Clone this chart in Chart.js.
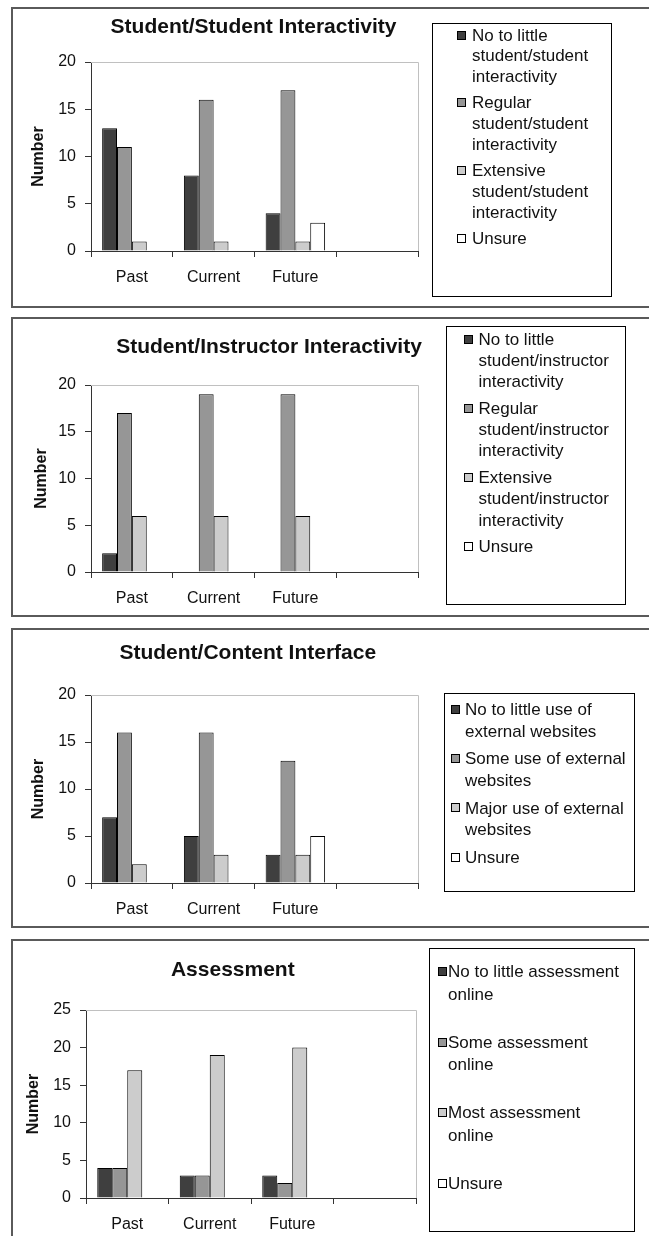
<!DOCTYPE html>
<html>
<head>
<meta charset="utf-8">
<script src="https://cdn.jsdelivr.net/npm/chart.js@4.4.1/dist/chart.umd.min.js"></script>
<style>
  html, body { margin: 0; padding: 0; background: #fff; }
  body { width: 649px; height: 1236px; position: relative; overflow: hidden; }
  .panel { position: absolute; left: 11px; width: 660px; border: 2px solid #5a5a5a; box-sizing: border-box; }
  canvas { position: absolute; left: 0; }
</style>
</head>
<body>
<div class="panel" style="top:7px;height:301px"></div>
<div class="panel" style="top:317px;height:300px"></div>
<div class="panel" style="top:628px;height:300px"></div>
<div class="panel" style="top:939px;height:320px"></div>
<canvas id="c1" width="649" height="301" style="top:7px"></canvas>
<canvas id="c2" width="649" height="300" style="top:317px"></canvas>
<canvas id="c3" width="649" height="300" style="top:628px"></canvas>
<canvas id="c4" width="649" height="300" style="top:939px"></canvas>
<script>
// Survey periods on the x axis (the fourth slot is left empty)
const categories = ['Past', 'Current', 'Future', ''];

// Student/Student Interactivity
const ssNoLittle  = [13, 8, 4, 0];
const ssRegular   = [11, 16, 17, 0];
const ssExtensive = [1, 1, 1, 0];
const ssUnsure    = [0, 0, 3, 0];
const ssNames = [
  ['No to little', 'student/student', 'interactivity'],
  ['Regular', 'student/student', 'interactivity'],
  ['Extensive', 'student/student', 'interactivity'],
  ['Unsure']
];

// Student/Instructor Interactivity
const siNoLittle  = [2, 0, 0, 0];
const siRegular   = [17, 19, 19, 0];
const siExtensive = [6, 6, 6, 0];
const siUnsure    = [0, 0, 0, 0];
const siNames = [
  ['No to little', 'student/instructor', 'interactivity'],
  ['Regular', 'student/instructor', 'interactivity'],
  ['Extensive', 'student/instructor', 'interactivity'],
  ['Unsure']
];

// Student/Content Interface
const scNoLittle = [7, 5, 3, 0];
const scSome     = [16, 16, 13, 0];
const scMajor    = [2, 3, 3, 0];
const scUnsure   = [0, 0, 5, 0];
const scNames = [
  ['No to little use of', 'external websites'],
  ['Some use of external', 'websites'],
  ['Major use of external', 'websites'],
  ['Unsure']
];

// Assessment
const asNoLittle = [4, 3, 3, 0];
const asSome     = [4, 3, 2, 0];
const asMost     = [17, 19, 20, 0];
const asUnsure   = [0, 0, 0, 0];
const asNames = [
  ['No to little assessment', 'online'],
  ['Some assessment', 'online'],
  ['Most assessment', 'online'],
  ['Unsure']
];

// y axis ranges and tick steps
const yMaxes = [20, 20, 20, 25];
const yStep = 5;

const fills = ['#3f3f3f', '#969696', '#cccccc', '#ffffff'];
const FONT = '"Liberation Sans", Arial, sans-serif';

// page-space layout of each framed panel
const panels = [
  { id: 'c1', top: 7, title: 'Student/Student Interactivity', titleX: 253.5, titleY: 27,
    series: [ssNoLittle, ssRegular, ssExtensive, ssUnsure], names: ssNames, yMax: yMaxes[0],
    plot: { l: 91, t: 62, r: 418, b: 251 }, axisTitleX: 38.3,
    legend: { box: [432, 23, 611, 296], swatchX: 457, textX: 472, firstY: 35, step: 67.8, lineH: 20.8 } },
  { id: 'c2', top: 317, title: 'Student/Instructor Interactivity', titleX: 269, titleY: 347.3,
    series: [siNoLittle, siRegular, siExtensive, siUnsure], names: siNames, yMax: yMaxes[1],
    plot: { l: 91, t: 385, r: 418, b: 572 }, axisTitleX: 41.7,
    legend: { box: [446, 326, 625, 604], swatchX: 464, textX: 478.5, firstY: 339.3, step: 69.1, lineH: 21.2 } },
  { id: 'c3', top: 628, title: 'Student/Content Interface', titleX: 247.8, titleY: 653.3,
    series: [scNoLittle, scSome, scMajor, scUnsure], names: scNames, yMax: yMaxes[2],
    plot: { l: 91, t: 695, r: 418, b: 883 }, axisTitleX: 38.3,
    legend: { box: [444, 693, 634, 891], swatchX: 450.7, textX: 465, firstY: 709.3, step: 49.3, lineH: 21.8 } },
  { id: 'c4', top: 939, title: 'Assessment', titleX: 232.8, titleY: 970,
    series: [asNoLittle, asSome, asMost, asUnsure], names: asNames, yMax: yMaxes[3],
    plot: { l: 86, t: 1010, r: 416, b: 1198 }, axisTitleX: 33.3,
    legend: { box: [429, 948, 634, 1231], swatchX: 438.3, textX: 448, firstY: 971.7, step: 70.5, lineH: 22.6 } }
];

// Draws the plot frame, the chart title and the boxed legend
const panelDecor = {
  id: 'panelDecor',
  beforeDatasetsDraw(chart) {
    const { ctx, chartArea: a } = chart;
    ctx.save();
    ctx.strokeStyle = '#c0c0c0';
    ctx.lineWidth = 1;
    ctx.beginPath();
    ctx.moveTo(a.left, Math.round(a.top) + 0.5);
    ctx.lineTo(Math.round(a.right) + 0.5, Math.round(a.top) + 0.5);
    ctx.lineTo(Math.round(a.right) + 0.5, a.bottom);
    ctx.stroke();
    ctx.restore();
  },
  afterDraw(chart) {
    const p = chart.config.options.panel;
    const ctx = chart.ctx;
    const oy = p.top;
    ctx.save();
    ctx.fillStyle = '#111';
    ctx.font = 'bold 21px ' + FONT;
    ctx.textAlign = 'center';
    ctx.textBaseline = 'middle';
    ctx.fillText(p.title, p.titleX, p.titleY - oy);

    const L = p.legend;
    ctx.strokeStyle = '#000';
    ctx.lineWidth = 1;
    ctx.fillStyle = '#fff';
    ctx.fillRect(L.box[0], L.box[1] - oy, L.box[2] - L.box[0], L.box[3] - L.box[1]);
    ctx.strokeRect(Math.round(L.box[0]) + 0.5, Math.round(L.box[1] - oy) + 0.5,
                   Math.round(L.box[2] - L.box[0]), Math.round(L.box[3] - L.box[1]));
    ctx.font = '17px ' + FONT;
    ctx.textAlign = 'left';
    chart.data.datasets.forEach((ds, i) => {
      const y0 = L.firstY + i * L.step - oy;
      const sx = Math.round(L.swatchX), sy = Math.round(y0 - 4.5);
      ctx.fillStyle = ds.backgroundColor;
      ctx.fillRect(sx, sy, 9, 9);
      ctx.strokeRect(sx + 0.5, sy + 0.5, 8, 8);
      ctx.fillStyle = '#111';
      p.names[i].forEach((line, j) => {
        ctx.fillText(line, L.textX, y0 + j * L.lineH + 1);
      });
    });
    ctx.restore();
  }
};

const Y_AXIS_W = (p) => p.plot.l - (p.axisTitleX - 9.6);
const X_AXIS_H = 40;

panels.forEach((p) => {
  const canvas = document.getElementById(p.id);
  const H = canvas.height;
  const yw = Y_AXIS_W(p);
  new Chart(canvas, {
    type: 'bar',
    data: {
      labels: categories,
      datasets: p.series.map((values, i) => ({
        label: p.names[i].join(' '),
        data: values,
        backgroundColor: fills[i],
        borderColor: '#000',
        borderWidth: (c) => (c.raw > 0 ? 1 : 0),
        barPercentage: 1,
        categoryPercentage: 4 / 5.5
      }))
    },
    plugins: [panelDecor],
    options: {
      panel: p,
      responsive: false,
      animation: false,
      events: [],
      layout: {
        padding: {
          top: p.plot.t - p.top,
          left: p.plot.l - yw,
          right: 649 - p.plot.r,
          bottom: H - (p.plot.b - p.top) - X_AXIS_H
        }
      },
      plugins: {
        legend: { display: false },
        title: { display: false },
        tooltip: { enabled: false }
      },
      scales: {
        x: {
          afterFit: (s) => { s.height = X_AXIS_H; },
          grid: { display: true, offset: true, drawOnChartArea: false, drawTicks: true,
                  tickLength: 6, color: '#333' },
          border: { display: true, color: '#333', width: 1 },
          ticks: { color: '#111', padding: 11, font: { family: FONT, size: 16 }, maxRotation: 0 }
        },
        y: {
          min: 0,
          max: p.yMax,
          afterFit: (s) => { s.width = yw; },
          grid: { display: true, drawOnChartArea: false, drawTicks: true, tickLength: 6, color: '#333' },
          border: { display: true, color: '#333', width: 1 },
          ticks: { stepSize: yStep, color: '#111', padding: 9, font: { family: FONT, size: 16 } },
          title: { display: true, text: 'Number', color: '#111', padding: 0,
                   font: { family: FONT, size: 16, weight: 'bold' } }
        }
      }
    }
  });
});
</script>
</body>
</html>
